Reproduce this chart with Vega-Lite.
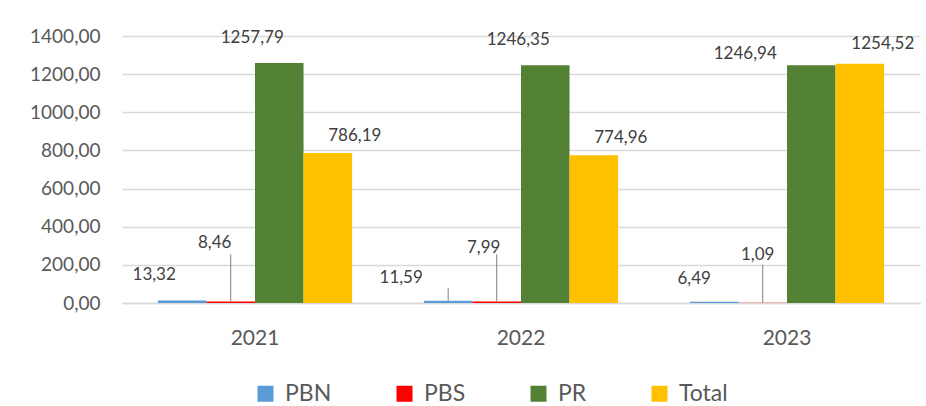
{
  "$schema": "https://vega.github.io/schema/vega-lite/v6.json",
  "width": 798,
  "height": 267,
  "autosize": {"type": "none"},
  "padding": {"left": 122, "top": 36, "right": 6, "bottom": 103},
  "background": "white",
  "config": {
    "font": "Lato",
    "view": {"stroke": null},
    "axis": {"labelColor": "#595959", "titleColor": "#595959"}
  },
  "data": {
    "values": [
      {"year": "2021", "series": "PBN", "value": 13.32},
      {"year": "2021", "series": "PBS", "value": 8.46},
      {"year": "2021", "series": "PR", "value": 1257.79},
      {"year": "2021", "series": "Total", "value": 786.19},
      {"year": "2022", "series": "PBN", "value": 11.59},
      {"year": "2022", "series": "PBS", "value": 7.99},
      {"year": "2022", "series": "PR", "value": 1246.35},
      {"year": "2022", "series": "Total", "value": 774.96},
      {"year": "2023", "series": "PBN", "value": 6.49},
      {"year": "2023", "series": "PBS", "value": 1.09},
      {"year": "2023", "series": "PR", "value": 1246.94},
      {"year": "2023", "series": "Total", "value": 1254.52}
    ]
  },
  "encoding": {
    "x": {
      "field": "year", "type": "nominal",
      "scale": {"paddingInner": 0.27, "paddingOuter": 0.135},
      "axis": {"title": null, "labelAngle": 0, "labelFontSize": 21, "labelPadding": 24, "ticks": false, "domainColor": "#D9D9D9", "domainWidth": 1.5}
    },
    "xOffset": {"field": "series", "type": "nominal", "sort": ["PBN", "PBS", "PR", "Total"], "scale": {"paddingInner": 0, "paddingOuter": 0}},
    "y": {
      "field": "value", "type": "quantitative",
      "scale": {"domain": [0, 1400], "nice": false},
      "axis": {"title": null, "values": [0, 200, 400, 600, 800, 1000, 1200, 1400], "labelOverlap": false, "labelExpr": "replace(format(datum.value, '.2f'), '.', ',')", "labelFontSize": 19, "labelPadding": 22, "ticks": false, "domain": false, "gridColor": "#D9D9D9", "gridWidth": 1.5}
    }
  },
  "layer": [
    {
      "mark": {"type": "bar"},
      "encoding": {
        "color": {
          "field": "series", "type": "nominal",
          "scale": {"domain": ["PBN", "PBS", "PR", "Total"], "range": ["#5B9BD5", "#FF0000", "#548235", "#FFC000"]},
          "legend": {"title": null, "orient": "none", "direction": "horizontal", "legendX": 132, "legendY": 346, "symbolType": "square", "symbolSize": 256, "symbolStrokeWidth": 0, "labelFontSize": 23, "labelColor": "#595959", "columnPadding": 61, "labelOffset": 8}
        }
      }
    },
    {
      "transform": [{"filter": "datum.series == 'PBS' || (datum.series == 'PBN' && datum.year == '2022')"}],
      "mark": {"type": "rule", "color": "#7F7F7F", "strokeWidth": 1,
        "xOffset": {"expr": "datum.series == 'PBN' ? -3 : (datum.year == '2021' ? -4 : (datum.year == '2022' ? -4 : -2))"},
        "y2Offset": {"expr": "datum.series == 'PBN' ? -13 : (datum.year == '2023' ? -38 : -47)"}},
      "encoding": {
        "y2": {"field": "value"}
      }
    },
    {
      "mark": {"type": "text", "baseline": "bottom", "fontSize": 17, "color": "#404040",
        "text": {"expr": "replace(format(datum.value, '.2f'), '.', ',')"},
        "dx": {"expr": "datum.series == 'PR' ? (datum.year == '2023' ? -66 : -27) : datum.series == 'Total' ? (datum.year == '2023' ? 23 : 27) : datum.series == 'PBN' ? (datum.year == '2021' ? -28 : datum.year == '2022' ? -47 : -20) : (datum.year == '2021' ? -16 : datum.year == '2022' ? -13 : -5)"},
        "dy": {"expr": "datum.series == 'PR' ? (datum.year == '2023' ? -2 : -16) : datum.series == 'Total' ? (datum.year == '2023' ? -11 : -8) : datum.series == 'PBN' ? (datum.year == '2021' ? -16 : -14) : (datum.year == '2021' ? -49 : datum.year == '2022' ? -44 : -39)"}},
      "encoding": {}
    }
  ]
}
